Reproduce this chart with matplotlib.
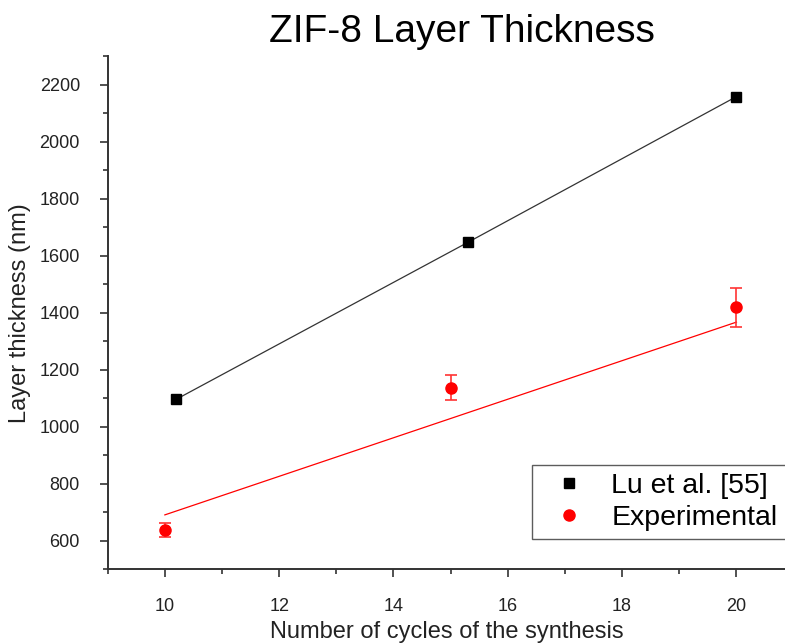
# ZIF-8 layer thickness vs synthesis cycles
import numpy as np
import matplotlib
matplotlib.use('Agg')
import matplotlib.pyplot as plt
from matplotlib.ticker import MultipleLocator
from matplotlib.lines import Line2D

plt.rcParams['font.family'] = ['Liberation Sans', 'DejaVu Sans']

# Lu et al. [55]
lu_x = [10.2, 15.3, 20.0]
lu_y = [1096, 1647, 2159]

# experimental
exp_x = [10, 15, 20]
exp_y = [636, 1137, 1419]
exp_err = [25, 45, 68]

# linear fit drawn for the experimental points
fit_x = [10, 20]
fit_y = [690, 1367]

fig = plt.figure(figsize=(7.85, 6.44), dpi=100)
ax = fig.add_axes([0.1372, 0.1165, 0.8628, 0.7958])

ax.plot(lu_x, lu_y, '-', color='#333333', lw=0.9, zorder=2)
ax.plot(lu_x, lu_y, 's', color='black', ms=7.5, ls='none', zorder=3)

ax.plot(fit_x, fit_y, '-', color='red', lw=0.9, zorder=2)
ax.errorbar(exp_x, exp_y, yerr=exp_err, fmt='o', color='red', ecolor='#ff3333',
            ms=8, elinewidth=1.2, capsize=4, capthick=1.2, zorder=3)

ax.set_xlim(9, 20.85)
ax.set_ylim(500, 2300)
ax.xaxis.set_major_locator(MultipleLocator(2))
ax.xaxis.set_minor_locator(MultipleLocator(1))
ax.yaxis.set_major_locator(MultipleLocator(200))
ax.yaxis.set_minor_locator(MultipleLocator(100))

for s in ['top', 'right']:
    ax.spines[s].set_visible(False)
for s in ['left', 'bottom']:
    ax.spines[s].set_color('#333333')
    ax.spines[s].set_linewidth(1.4)

ax.tick_params(which='major', direction='out', length=6, width=1.2, color='#333333',
               labelsize=13, labelcolor='#222222')
ax.tick_params(axis='y', which='major', pad=14)
ax.tick_params(axis='x', which='major', pad=15)
ax.tick_params(which='minor', direction='out', length=3.5, width=1.2, color='#333333')

ax.set_xlabel('Number of cycles of the synthesis', fontsize=17, color='#222222', labelpad=4)
ax.set_ylabel('Layer thickness (nm)', fontsize=17, color='#222222', labelpad=6)

fig.text(0.588, 0.951, 'ZIF-8 Layer Thickness', fontsize=28, ha='center', va='center')

handles = [Line2D([], [], marker='s', color='black', ms=7.5, ls='none'),
           Line2D([], [], marker='o', color='red', ms=8, ls='none')]
labels = ['Lu et al. [55]', 'Experimental']
leg = fig.legend(handles, labels, loc='upper left', bbox_to_anchor=(0.6773, 0.2784),
                 fontsize=20.5, frameon=True, fancybox=False, borderpad=0.3,
                 handlelength=2.0, handletextpad=0.5, labelspacing=0.2, borderaxespad=0)
leg.get_frame().set_edgecolor('#333333')
leg.get_frame().set_linewidth(1.0)

fig.savefig('out.png', dpi=100)
